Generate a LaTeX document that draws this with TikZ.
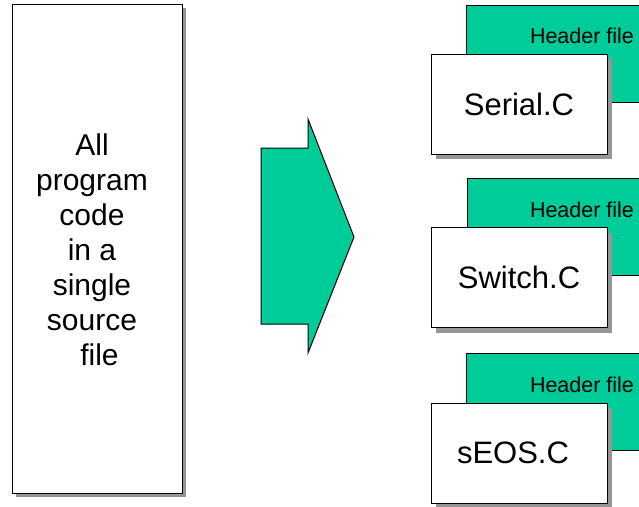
\documentclass[tikz,border=0pt]{standalone}
\usepackage{fontspec}
\setmainfont{Liberation Sans}
\usetikzlibrary{shadows}
\definecolor{hdrgreen}{RGB}{0,204,153}
\definecolor{shadowgray}{RGB}{150,150,150}
\begin{document}
\begin{tikzpicture}[x=1pt,y=-1pt,
  filebox/.style={draw=black, line width=1pt, fill=white, inner sep=0pt,
    drop shadow={shadow xshift=5pt, shadow yshift=-5pt, fill=shadowgray, opacity=1}},
  srcbox/.style={draw=black, line width=1pt, fill=white, inner sep=0pt,
    drop shadow={shadow xshift=4pt, shadow yshift=-4pt, fill=shadowgray, opacity=1}},
  hdrbox/.style={draw=black, line width=1pt, fill=hdrgreen, inner sep=0pt,
    minimum width=234pt, minimum height=97pt},
  cbox/.style={filebox, minimum width=176pt, minimum height=100pt},
  hdrtext/.style={anchor=base, inner sep=0pt, font=\fontsize{21.5}{24}\selectfont},
  ctext/.style={inner sep=0pt, font=\fontsize{31}{36}\selectfont},
  bigarrow/.style={draw=black, line width=1pt, fill=hdrgreen, line join=miter}
]
\path[use as bounding box, clip] (0,0) rectangle (639,506);

% single source file
\node[srcbox, minimum width=170pt, minimum height=489pt] (src) at (97,248.5) {};
\node[inner sep=0pt, align=center, font=\fontsize{30}{35}\selectfont] (srctext) at (92,250)
  {All\\program\\code\\in a\\single\\source\\\hspace*{0.5em}file};

% arrow
\draw[bigarrow] (261,148) -- (308,148) -- (308,119) -- (354,237) -- (308,353) -- (308,324) -- (261,324) -- cycle;

% Serial
\node[hdrbox] (h1) at (583,53.5) {};
\node[hdrtext] (h1t) at (582,43.5) {Header file};
\node[cbox] (c1) at (519,104) {};
\node[ctext] (c1t) at (c1.center) {Serial.C};

% Switch
\node[hdrbox] (h2) at (584,226.5) {};
\node[hdrtext] (h2t) at (582,217) {Header file};
\node[cbox] (c2) at (519,277.5) {};
\node[ctext] (c2t) at (c2.center) {Switch.C};

% sEOS
\node[hdrbox] (h3) at (583,401.5) {};
\node[hdrtext] (h3t) at (582,392) {Header file};
\node[cbox] (c3) at (519,453) {};
\node[ctext] (c3t) at (513,453) {sEOS.C};
\end{tikzpicture}
\end{document}
